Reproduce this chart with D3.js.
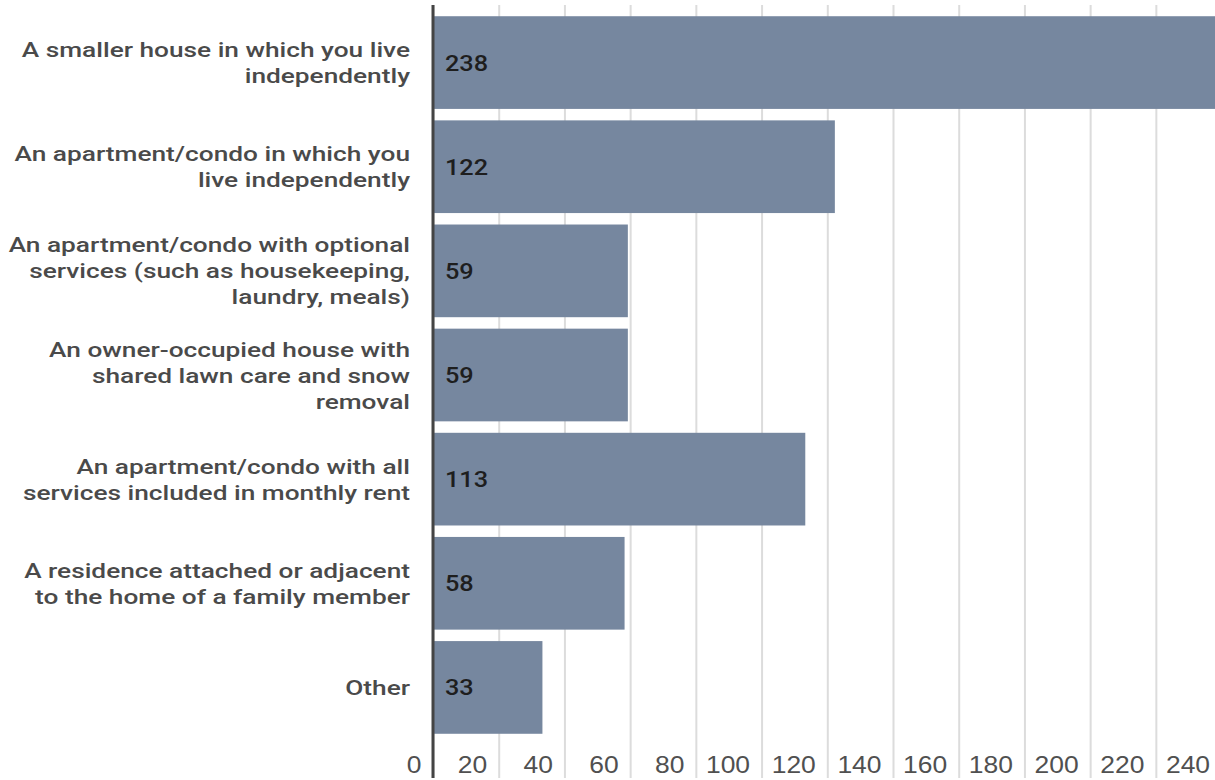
<!DOCTYPE html>
<html>
<head>
<meta charset="utf-8">
<script src="https://cdn.jsdelivr.net/npm/d3@7"></script>
<style>
  html, body { margin: 0; padding: 0; background: #fff; }
  svg { display: block; font-family: Roboto, "Noto Sans", sans-serif; }
</style>
</head>
<body>
<svg id="paper"></svg>
<script>
// categories (one entry per line of the wrapped label)
const categories = [
    ["A smaller house in which you live", "independently"],
    ["An apartment/condo in which you", "live independently"],
    ["An apartment/condo with optional", "services (such as housekeeping,", "laundry, meals)"],
    ["An owner-occupied house with", "shared lawn care and snow", "removal"],
    ["An apartment/condo with all", "services included in monthly rent"],
    ["A residence attached or adjacent", "to the home of a family member"],
    ["Other"]
];
const values = [238, 122, 59, 59, 113, 58, 33];
const tickValues = [0, 20, 40, 60, 80, 100, 120, 140, 160, 180, 200, 220, 240];

// set the dimensions of the page
const width = 1215, height = 780;
const plotLeft = 433, plotTop = 5, plotBottom = 778;

const svg = d3.select("#paper")
    .attr("width", width)
    .attr("height", height);

const x = d3.scaleLinear()
    .domain([0, 238])
    .range([plotLeft, width]);

const y = d3.scaleBand()
    .domain(d3.range(values.length))
    .range([10.5, 739.5])
    .paddingInner(0.11)
    .paddingOuter(0.055);

// gridlines + tick labels
const xAxis = svg.append("g")
    .attr("transform", "translate(0," + plotBottom + ")")
    .call(d3.axisBottom(x)
        .tickValues(tickValues)
        .tickSizeInner(-(plotBottom - plotTop))
        .tickSizeOuter(0));

xAxis.select(".domain").remove();
xAxis.selectAll(".tick line")
    .attr("stroke", "#dcdcdc")
    .attr("stroke-width", 2);
xAxis.selectAll(".tick text")
    .attr("fill", "#505050")
    .attr("font-size", 23)
    .attr("font-weight", 500)
    .attr("text-anchor", "end")
    .attr("x", 0)
    .attr("y", 0)
    .attr("dy", null)
    .attr("transform", "translate(-12,-5) scale(1.15,1)");

// bars
svg.selectAll(".bar")
    .data(values)
    .enter().append("rect")
    .attr("class", "bar")
    .attr("x", x(0) + 1)
    .attr("y", (d, i) => y(i))
    .attr("width", d => x(d) - x(0))
    .attr("height", y.bandwidth())
    .attr("fill", "#76879f");

// value labels
svg.selectAll(".value")
    .data(values)
    .enter().append("text")
    .attr("class", "value")
    .attr("transform", (d, i) => "translate(445," + (y(i) + y.bandwidth() / 2) + ") scale(1.15,1)")
    .attr("dy", "0.36em")
    .attr("fill", "#1e1e1e")
    .attr("font-size", 22)
    .attr("font-weight", 500)
    .text(d => d);

// category labels
const lineHeight = 26;
const labels = svg.selectAll(".label")
    .data(categories)
    .enter().append("text")
    .attr("class", "label")
    .attr("transform", (d, i) => "translate(410," + (y(i) + y.bandwidth() / 2) + ") scale(1.25,1)")
    .attr("text-anchor", "end")
    .attr("fill", "#4a4a4a")
    .attr("font-size", 21)
    .attr("font-weight", 500);

labels.selectAll("tspan")
    .data(d => d.map((t, k) => ({t: t, k: k, n: d.length})))
    .enter().append("tspan")
    .attr("x", 0)
    .attr("y", d => (d.k - (d.n - 1) / 2) * lineHeight)
    .attr("dy", "0.36em")
    .text(d => d.t);

// vertical axis line
svg.append("line")
    .attr("x1", x(0))
    .attr("x2", x(0))
    .attr("y1", plotTop)
    .attr("y2", plotBottom)
    .attr("stroke", "#444")
    .attr("stroke-width", 3);
</script>
</body>
</html>
